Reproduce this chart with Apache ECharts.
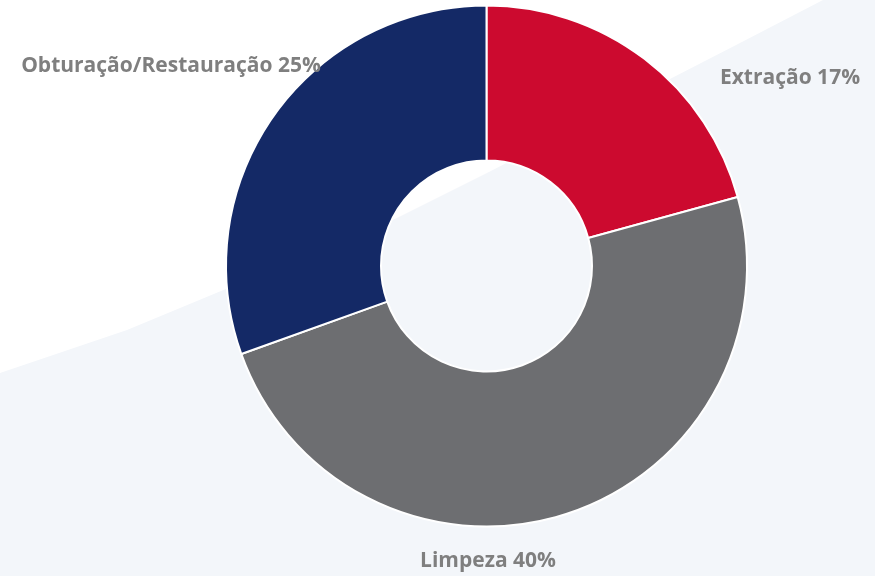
<!DOCTYPE html>
<html>
<head>
<meta charset="utf-8">
<script src="https://cdn.jsdelivr.net/npm/echarts@6/dist/echarts.min.js"></script>
<style>
html,body{margin:0;padding:0;background:#ffffff;}
#chart{width:875px;height:576px;}
</style>
</head>
<body>
<div id="chart"></div>
<script>
const categories = ['Extração', 'Limpeza', 'Obturação/Restauração'];
const values = [17, 40, 25];
const colors = ['#cc0a2f', '#6d6e71', '#142966'];

const labelPos = [
  {x: 790, y: 78},
  {x: 488, y: 561},
  {x: 171, y: 66}
];

const chart = echarts.init(document.getElementById('chart'));
chart.setOption({
  backgroundColor: '#ffffff',
  animation: false,
  graphic: [{
    type: 'polygon',
    z: -10,
    silent: true,
    shape: {
      points: [[0,373],[127,330],[397,218],[487,173],[740,43],[823,0],[875,0],[875,576],[0,576]]
    },
    style: {fill: '#f3f6fa'}
  }],
  series: [{
    type: 'pie',
    center: [486.5, 266],
    radius: [105.5, 260.5],
    startAngle: 90,
    clockwise: true,
    avoidLabelOverlap: false,
    itemStyle: {borderColor: '#ffffff', borderWidth: 2},
    label: {
      show: true,
      position: 'outside',
      formatter: p => p.name + ' ' + p.value + '%',
      fontFamily: 'Open Sans',
      fontWeight: 'bold',
      fontSize: 21,
      color: '#7f7f7f',
      align: 'center',
      verticalAlign: 'middle'
    },
    labelLine: {show: false},
    labelLayout: function (params) {
      const p = labelPos[params.dataIndex];
      return {x: p.x, y: p.y, align: 'center', verticalAlign: 'middle'};
    },
    emphasis: {disabled: true},
    data: categories.map((c, i) => ({name: c, value: values[i], itemStyle: {color: colors[i]}}))
  }]
});
</script>
</body>
</html>
